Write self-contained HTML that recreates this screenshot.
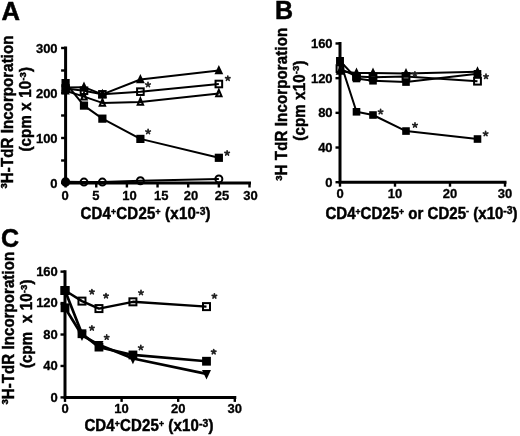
<!DOCTYPE html>
<html><head><meta charset="utf-8"><style>
html,body{margin:0;padding:0;background:#fff;}
body{width:520px;height:436px;overflow:hidden;font-family:"Liberation Sans", sans-serif;}
svg{display:block;will-change:transform;} text{font-kerning:none;}
</style></head><body>
<svg width="520" height="436" viewBox="0 0 520 436">
<rect width="520" height="436" fill="#fff"/>
<text transform="translate(1.60,20.40) scale(1,1.0)" font-size="25.6" font-family="Liberation Sans, sans-serif" font-weight="bold" stroke="#000" stroke-width="0.5">A</text>
<text transform="translate(12.50,112.00) rotate(-90) scale(1,1.04)" font-size="15" font-family="Liberation Sans, sans-serif" font-weight="bold" text-anchor="middle" stroke="#000" stroke-width="0.45" textLength="153.1" lengthAdjust="spacing"><tspan font-size="9.5" dy="-5">3</tspan><tspan dy="5">H-TdR Incorporation</tspan></text>
<text transform="translate(31.40,109.30) rotate(-90) scale(1,1.04)" font-size="15" font-family="Liberation Sans, sans-serif" font-weight="bold" text-anchor="middle" stroke="#000" stroke-width="0.45" textLength="84.6" lengthAdjust="spacing">(cpm x 10<tspan font-size="9.5" dy="-5">-3</tspan><tspan dy="5">)</tspan></text>
<path d="M65.60,181.65 L83.99,182.10 L102.38,182.10 L140.39,180.75 L218.85,178.95" fill="none" stroke="#000" stroke-width="2.0" stroke-linejoin="round"/>
<path d="M65.60,90.75 L83.99,96.60 L102.38,102.90 L140.39,102.00 L218.85,93.45" fill="none" stroke="#000" stroke-width="2.0" stroke-linejoin="round"/>
<path d="M65.60,88.50 L83.99,90.75 L102.38,94.35 L140.39,91.65 L218.85,84.00" fill="none" stroke="#000" stroke-width="2.0" stroke-linejoin="round"/>
<path d="M65.60,87.60 L83.99,87.15 L102.38,94.35 L140.39,79.50 L218.85,70.50" fill="none" stroke="#000" stroke-width="2.0" stroke-linejoin="round"/>
<path d="M65.60,83.10 L83.99,105.60 L102.38,118.65 L140.39,138.90 L218.85,157.80" fill="none" stroke="#000" stroke-width="2.0" stroke-linejoin="round"/>
<path d="M65.60,48.00 V183.00 H249.50" fill="none" stroke="#000" stroke-width="3" stroke-linecap="square"/>
<line x1="61.10" y1="183.00" x2="65.60" y2="183.00" stroke="#000" stroke-width="2.4"/>
<line x1="61.10" y1="160.50" x2="65.60" y2="160.50" stroke="#000" stroke-width="2.4"/>
<line x1="61.10" y1="138.00" x2="65.60" y2="138.00" stroke="#000" stroke-width="2.4"/>
<line x1="61.10" y1="115.50" x2="65.60" y2="115.50" stroke="#000" stroke-width="2.4"/>
<line x1="61.10" y1="93.00" x2="65.60" y2="93.00" stroke="#000" stroke-width="2.4"/>
<line x1="61.10" y1="70.50" x2="65.60" y2="70.50" stroke="#000" stroke-width="2.4"/>
<line x1="61.10" y1="48.00" x2="65.60" y2="48.00" stroke="#000" stroke-width="2.4"/>
<line x1="65.60" y1="183.00" x2="65.60" y2="187.50" stroke="#000" stroke-width="2.4"/>
<line x1="96.25" y1="183.00" x2="96.25" y2="187.50" stroke="#000" stroke-width="2.4"/>
<line x1="126.90" y1="183.00" x2="126.90" y2="187.50" stroke="#000" stroke-width="2.4"/>
<line x1="157.55" y1="183.00" x2="157.55" y2="187.50" stroke="#000" stroke-width="2.4"/>
<line x1="188.20" y1="183.00" x2="188.20" y2="187.50" stroke="#000" stroke-width="2.4"/>
<line x1="218.85" y1="183.00" x2="218.85" y2="187.50" stroke="#000" stroke-width="2.4"/>
<line x1="249.50" y1="183.00" x2="249.50" y2="187.50" stroke="#000" stroke-width="2.4"/>
<text transform="translate(57.60,188.20) scale(1,1.04)" font-size="13" font-family="Liberation Sans, sans-serif" font-weight="bold" text-anchor="end" stroke="#000" stroke-width="0.3">0</text>
<text transform="translate(57.60,143.20) scale(1,1.04)" font-size="13" font-family="Liberation Sans, sans-serif" font-weight="bold" text-anchor="end" stroke="#000" stroke-width="0.3">100</text>
<text transform="translate(57.60,98.20) scale(1,1.04)" font-size="13" font-family="Liberation Sans, sans-serif" font-weight="bold" text-anchor="end" stroke="#000" stroke-width="0.3">200</text>
<text transform="translate(57.60,53.20) scale(1,1.04)" font-size="13" font-family="Liberation Sans, sans-serif" font-weight="bold" text-anchor="end" stroke="#000" stroke-width="0.3">300</text>
<text transform="translate(65.20,199.50) scale(1,1.04)" font-size="13" font-family="Liberation Sans, sans-serif" font-weight="bold" text-anchor="middle" stroke="#000" stroke-width="0.3">0</text>
<text transform="translate(95.80,199.50) scale(1,1.04)" font-size="13" font-family="Liberation Sans, sans-serif" font-weight="bold" text-anchor="middle" stroke="#000" stroke-width="0.3">5</text>
<text transform="translate(129.40,199.50) scale(1,1.04)" font-size="13" font-family="Liberation Sans, sans-serif" font-weight="bold" text-anchor="middle" stroke="#000" stroke-width="0.3">10</text>
<text transform="translate(161.20,199.50) scale(1,1.04)" font-size="13" font-family="Liberation Sans, sans-serif" font-weight="bold" text-anchor="middle" stroke="#000" stroke-width="0.3">15</text>
<text transform="translate(191.00,199.50) scale(1,1.04)" font-size="13" font-family="Liberation Sans, sans-serif" font-weight="bold" text-anchor="middle" stroke="#000" stroke-width="0.3">20</text>
<text transform="translate(222.00,199.50) scale(1,1.04)" font-size="13" font-family="Liberation Sans, sans-serif" font-weight="bold" text-anchor="middle" stroke="#000" stroke-width="0.3">25</text>
<text transform="translate(250.40,199.50) scale(1,1.04)" font-size="13" font-family="Liberation Sans, sans-serif" font-weight="bold" text-anchor="middle" stroke="#000" stroke-width="0.3">30</text>
<circle cx="65.60" cy="182.55" r="4.30" fill="#000"/>
<circle cx="65.60" cy="181.65" r="3.50" fill="none" stroke="#000" stroke-width="2.0"/>
<circle cx="83.99" cy="182.10" r="3.50" fill="none" stroke="#000" stroke-width="2.0"/>
<circle cx="102.38" cy="182.10" r="3.50" fill="none" stroke="#000" stroke-width="2.0"/>
<circle cx="140.39" cy="180.75" r="3.50" fill="none" stroke="#000" stroke-width="2.0"/>
<circle cx="218.85" cy="178.95" r="3.50" fill="none" stroke="#000" stroke-width="2.0"/>
<path d="M65.60,87.08 L68.30,93.53 L62.90,93.53 Z" fill="none" stroke="#000" stroke-width="2.0" stroke-linejoin="miter"/>
<path d="M83.99,92.93 L86.69,99.38 L81.29,99.38 Z" fill="none" stroke="#000" stroke-width="2.0" stroke-linejoin="miter"/>
<path d="M102.38,99.23 L105.08,105.68 L99.68,105.68 Z" fill="none" stroke="#000" stroke-width="2.0" stroke-linejoin="miter"/>
<path d="M140.39,98.33 L143.09,104.78 L137.69,104.78 Z" fill="none" stroke="#000" stroke-width="2.0" stroke-linejoin="miter"/>
<path d="M218.85,89.78 L221.55,96.23 L216.15,96.23 Z" fill="none" stroke="#000" stroke-width="2.0" stroke-linejoin="miter"/>
<rect x="62.30" y="85.20" width="6.60" height="6.60" fill="none" stroke="#000" stroke-width="2.0"/>
<rect x="80.69" y="87.45" width="6.60" height="6.60" fill="none" stroke="#000" stroke-width="2.0"/>
<rect x="99.08" y="91.05" width="6.60" height="6.60" fill="none" stroke="#000" stroke-width="2.0"/>
<rect x="137.09" y="88.35" width="6.60" height="6.60" fill="none" stroke="#000" stroke-width="2.0"/>
<rect x="215.55" y="80.70" width="6.60" height="6.60" fill="none" stroke="#000" stroke-width="2.0"/>
<path d="M65.60,82.06 L70.00,91.30 L61.20,91.30 Z" fill="#000"/>
<path d="M83.99,81.61 L88.39,90.85 L79.59,90.85 Z" fill="#000"/>
<path d="M102.38,88.81 L106.78,98.05 L97.98,98.05 Z" fill="#000"/>
<path d="M140.39,73.96 L144.79,83.20 L135.99,83.20 Z" fill="#000"/>
<path d="M218.85,64.96 L223.25,74.20 L214.45,74.20 Z" fill="#000"/>
<rect x="61.50" y="79.00" width="8.2" height="8.2" fill="#000"/>
<rect x="79.89" y="101.50" width="8.2" height="8.2" fill="#000"/>
<rect x="98.28" y="114.55" width="8.2" height="8.2" fill="#000"/>
<rect x="136.29" y="134.80" width="8.2" height="8.2" fill="#000"/>
<rect x="214.75" y="153.70" width="8.2" height="8.2" fill="#000"/>
<path d="M148.00,84.70 L148.00,82.35 M148.00,84.70 L150.23,83.97 M148.00,84.70 L149.38,86.60 M148.00,84.70 L146.62,86.60 M148.00,84.70 L145.77,83.97 " stroke="#222" stroke-width="1.7" stroke-linecap="round" fill="none"/>
<path d="M227.80,78.40 L227.80,76.05 M227.80,78.40 L230.03,77.67 M227.80,78.40 L229.18,80.30 M227.80,78.40 L226.42,80.30 M227.80,78.40 L225.57,77.67 " stroke="#222" stroke-width="1.7" stroke-linecap="round" fill="none"/>
<path d="M148.10,131.70 L148.10,129.35 M148.10,131.70 L150.33,130.97 M148.10,131.70 L149.48,133.60 M148.10,131.70 L146.72,133.60 M148.10,131.70 L145.87,130.97 " stroke="#222" stroke-width="1.7" stroke-linecap="round" fill="none"/>
<path d="M227.10,153.10 L227.10,150.75 M227.10,153.10 L229.33,152.37 M227.10,153.10 L228.48,155.00 M227.10,153.10 L225.72,155.00 M227.10,153.10 L224.87,152.37 " stroke="#222" stroke-width="1.7" stroke-linecap="round" fill="none"/>
<text transform="translate(80.40,219.40) scale(1,1.04)" font-size="15" font-family="Liberation Sans, sans-serif" font-weight="bold" stroke="#000" stroke-width="0.45" textLength="130.2" lengthAdjust="spacing">CD4<tspan font-size="8.6" dy="-4.1">+</tspan><tspan dy="4.1">CD25</tspan><tspan font-size="8.6" dy="-4.1">+</tspan><tspan dy="4.1"> (x10</tspan><tspan font-size="10.3" dy="-4.2">-3</tspan><tspan dy="4.2">)</tspan></text>
<text transform="translate(275.00,19.30) scale(1,1.0)" font-size="25" font-family="Liberation Sans, sans-serif" font-weight="bold" stroke="#000" stroke-width="0.5">B</text>
<text transform="translate(286.80,104.30) rotate(-90) scale(1,1.04)" font-size="15" font-family="Liberation Sans, sans-serif" font-weight="bold" text-anchor="middle" stroke="#000" stroke-width="0.45" textLength="153.1" lengthAdjust="spacing"><tspan font-size="9.5" dy="-5">3</tspan><tspan dy="5">H TdR Incorporation</tspan></text>
<text transform="translate(304.60,100.60) rotate(-90) scale(1,1.04)" font-size="15" font-family="Liberation Sans, sans-serif" font-weight="bold" text-anchor="middle" stroke="#000" stroke-width="0.45" textLength="80.2" lengthAdjust="spacing">(cpm x10<tspan font-size="9.5" dy="-5">-3</tspan><tspan dy="5">)</tspan></text>
<path d="M340.00,71.22 L356.50,72.96 L373.00,72.96 L406.00,73.39 L477.50,71.66" fill="none" stroke="#000" stroke-width="2.0" stroke-linejoin="round"/>
<path d="M340.00,68.62 L356.50,76.43 L373.00,77.29 L406.00,76.43 L477.50,81.19" fill="none" stroke="#000" stroke-width="2.0" stroke-linejoin="round"/>
<path d="M340.00,60.82 L356.50,78.51 L373.00,80.76 L406.00,82.06 L477.50,73.82" fill="none" stroke="#000" stroke-width="2.0" stroke-linejoin="round"/>
<path d="M340.00,60.82 L356.50,111.80 L373.00,115.01 L406.00,131.05 L477.50,139.02" fill="none" stroke="#000" stroke-width="2.0" stroke-linejoin="round"/>
<path d="M340.00,43.48 V182.20 H505.00" fill="none" stroke="#000" stroke-width="3" stroke-linecap="square"/>
<line x1="335.50" y1="182.20" x2="340.00" y2="182.20" stroke="#000" stroke-width="2.4"/>
<line x1="335.50" y1="147.52" x2="340.00" y2="147.52" stroke="#000" stroke-width="2.4"/>
<line x1="335.50" y1="112.84" x2="340.00" y2="112.84" stroke="#000" stroke-width="2.4"/>
<line x1="335.50" y1="78.16" x2="340.00" y2="78.16" stroke="#000" stroke-width="2.4"/>
<line x1="335.50" y1="43.48" x2="340.00" y2="43.48" stroke="#000" stroke-width="2.4"/>
<line x1="340.00" y1="182.20" x2="340.00" y2="186.70" stroke="#000" stroke-width="2.4"/>
<line x1="395.00" y1="182.20" x2="395.00" y2="186.70" stroke="#000" stroke-width="2.4"/>
<line x1="450.00" y1="182.20" x2="450.00" y2="186.70" stroke="#000" stroke-width="2.4"/>
<line x1="505.00" y1="182.20" x2="505.00" y2="186.70" stroke="#000" stroke-width="2.4"/>
<text transform="translate(332.60,186.60) scale(1,1.04)" font-size="13" font-family="Liberation Sans, sans-serif" font-weight="bold" text-anchor="end" stroke="#000" stroke-width="0.3">0</text>
<text transform="translate(332.60,151.92) scale(1,1.04)" font-size="13" font-family="Liberation Sans, sans-serif" font-weight="bold" text-anchor="end" stroke="#000" stroke-width="0.3">40</text>
<text transform="translate(332.60,117.24) scale(1,1.04)" font-size="13" font-family="Liberation Sans, sans-serif" font-weight="bold" text-anchor="end" stroke="#000" stroke-width="0.3">80</text>
<text transform="translate(332.60,82.56) scale(1,1.04)" font-size="13" font-family="Liberation Sans, sans-serif" font-weight="bold" text-anchor="end" stroke="#000" stroke-width="0.3">120</text>
<text transform="translate(332.60,47.88) scale(1,1.04)" font-size="13" font-family="Liberation Sans, sans-serif" font-weight="bold" text-anchor="end" stroke="#000" stroke-width="0.3">160</text>
<text transform="translate(340.00,197.50) scale(1,1.04)" font-size="13" font-family="Liberation Sans, sans-serif" font-weight="bold" text-anchor="middle" stroke="#000" stroke-width="0.3">0</text>
<text transform="translate(395.00,197.50) scale(1,1.04)" font-size="13" font-family="Liberation Sans, sans-serif" font-weight="bold" text-anchor="middle" stroke="#000" stroke-width="0.3">10</text>
<text transform="translate(450.00,197.50) scale(1,1.04)" font-size="13" font-family="Liberation Sans, sans-serif" font-weight="bold" text-anchor="middle" stroke="#000" stroke-width="0.3">20</text>
<text transform="translate(505.00,197.50) scale(1,1.04)" font-size="13" font-family="Liberation Sans, sans-serif" font-weight="bold" text-anchor="middle" stroke="#000" stroke-width="0.3">30</text>
<path d="M340.00,65.81 L344.30,74.84 L335.70,74.84 Z" fill="#000"/>
<path d="M356.50,67.54 L360.80,76.57 L352.20,76.57 Z" fill="#000"/>
<path d="M373.00,67.54 L377.30,76.57 L368.70,76.57 Z" fill="#000"/>
<path d="M406.00,67.97 L410.30,77.00 L401.70,77.00 Z" fill="#000"/>
<path d="M477.50,66.24 L481.80,75.27 L473.20,75.27 Z" fill="#000"/>
<rect x="336.60" y="65.22" width="6.80" height="6.80" fill="none" stroke="#000" stroke-width="2.0"/>
<rect x="353.10" y="73.03" width="6.80" height="6.80" fill="none" stroke="#000" stroke-width="2.0"/>
<rect x="369.60" y="73.89" width="6.80" height="6.80" fill="none" stroke="#000" stroke-width="2.0"/>
<rect x="402.60" y="73.03" width="6.80" height="6.80" fill="none" stroke="#000" stroke-width="2.0"/>
<rect x="474.10" y="77.79" width="6.80" height="6.80" fill="none" stroke="#000" stroke-width="2.0"/>
<rect x="336.20" y="57.02" width="7.6" height="7.6" fill="#000"/>
<rect x="352.70" y="74.71" width="7.6" height="7.6" fill="#000"/>
<rect x="369.20" y="76.96" width="7.6" height="7.6" fill="#000"/>
<rect x="402.20" y="78.26" width="7.6" height="7.6" fill="#000"/>
<rect x="473.70" y="70.02" width="7.6" height="7.6" fill="#000"/>
<rect x="336.20" y="57.02" width="7.6" height="7.6" fill="#000"/>
<rect x="352.70" y="108.00" width="7.6" height="7.6" fill="#000"/>
<rect x="369.20" y="111.21" width="7.6" height="7.6" fill="#000"/>
<rect x="402.20" y="127.25" width="7.6" height="7.6" fill="#000"/>
<rect x="473.70" y="135.22" width="7.6" height="7.6" fill="#000"/>
<path d="M380.60,111.80 L380.60,109.45 M380.60,111.80 L382.83,111.07 M380.60,111.80 L381.98,113.70 M380.60,111.80 L379.22,113.70 M380.60,111.80 L378.37,111.07 " stroke="#222" stroke-width="1.7" stroke-linecap="round" fill="none"/>
<path d="M415.00,125.20 L415.00,122.85 M415.00,125.20 L417.23,124.47 M415.00,125.20 L416.38,127.10 M415.00,125.20 L413.62,127.10 M415.00,125.20 L412.77,124.47 " stroke="#222" stroke-width="1.7" stroke-linecap="round" fill="none"/>
<path d="M485.60,133.70 L485.60,131.35 M485.60,133.70 L487.83,132.97 M485.60,133.70 L486.98,135.60 M485.60,133.70 L484.22,135.60 M485.60,133.70 L483.37,132.97 " stroke="#222" stroke-width="1.7" stroke-linecap="round" fill="none"/>
<path d="M414.90,74.20 L414.90,71.85 M414.90,74.20 L417.13,73.47 M414.90,74.20 L416.28,76.10 M414.90,74.20 L413.52,76.10 M414.90,74.20 L412.67,73.47 " stroke="#222" stroke-width="1.7" stroke-linecap="round" fill="none"/>
<path d="M486.00,76.50 L486.00,74.15 M486.00,76.50 L488.23,75.77 M486.00,76.50 L487.38,78.40 M486.00,76.50 L484.62,78.40 M486.00,76.50 L483.77,75.77 " stroke="#222" stroke-width="1.7" stroke-linecap="round" fill="none"/>
<text transform="translate(325.40,218.80) scale(1,1.04)" font-size="15" font-family="Liberation Sans, sans-serif" font-weight="bold" stroke="#000" stroke-width="0.45" textLength="192.2" lengthAdjust="spacing">CD4<tspan font-size="8.6" dy="-4.1">+</tspan><tspan dy="4.1">CD25</tspan><tspan font-size="8.6" dy="-4.1">+</tspan><tspan dy="4.1"> or CD25</tspan><tspan font-size="9" dy="-4.5">-</tspan><tspan dy="4.5"> (x10</tspan><tspan font-size="10.3" dy="-4.2">-3</tspan><tspan dy="4.2">)</tspan></text>
<text transform="translate(1.00,246.80) scale(1,1.0)" font-size="25" font-family="Liberation Sans, sans-serif" font-weight="bold" stroke="#000" stroke-width="0.5">C</text>
<text transform="translate(13.50,328.20) rotate(-90) scale(1,1.04)" font-size="15" font-family="Liberation Sans, sans-serif" font-weight="bold" text-anchor="middle" stroke="#000" stroke-width="0.45" textLength="152.6" lengthAdjust="spacing"><tspan font-size="9.5" dy="-5">3</tspan><tspan dy="5">H-TdR Incorporation</tspan></text>
<text transform="translate(32.20,323.85) rotate(-90) scale(1,1.04)" font-size="15" font-family="Liberation Sans, sans-serif" font-weight="bold" text-anchor="middle" stroke="#000" stroke-width="0.45" textLength="88.5" lengthAdjust="spacing">(cpm<tspan xml:space="preserve">  </tspan>x 10<tspan font-size="9.5" dy="-5">-3</tspan><tspan dy="5">)</tspan></text>
<path d="M65.00,290.50 L81.98,301.11 L98.96,308.58 L132.92,301.82 L206.50,306.62" fill="none" stroke="#000" stroke-width="2.4" stroke-linejoin="round"/>
<path d="M65.00,307.80 L81.98,335.31 L98.96,344.74 L132.92,358.49 L206.50,373.82" fill="none" stroke="#000" stroke-width="2.7" stroke-linejoin="round"/>
<path d="M65.00,290.50 L81.98,333.73 L98.96,347.10 L132.92,354.96 L206.50,361.24" fill="none" stroke="#000" stroke-width="2.7" stroke-linejoin="round"/>
<path d="M65.00,271.64 V397.40 H234.80" fill="none" stroke="#000" stroke-width="3" stroke-linecap="square"/>
<line x1="60.50" y1="397.40" x2="65.00" y2="397.40" stroke="#000" stroke-width="2.4"/>
<line x1="60.50" y1="365.96" x2="65.00" y2="365.96" stroke="#000" stroke-width="2.4"/>
<line x1="60.50" y1="334.52" x2="65.00" y2="334.52" stroke="#000" stroke-width="2.4"/>
<line x1="60.50" y1="303.08" x2="65.00" y2="303.08" stroke="#000" stroke-width="2.4"/>
<line x1="60.50" y1="271.64" x2="65.00" y2="271.64" stroke="#000" stroke-width="2.4"/>
<line x1="65.00" y1="397.40" x2="65.00" y2="401.90" stroke="#000" stroke-width="2.4"/>
<line x1="121.60" y1="397.40" x2="121.60" y2="401.90" stroke="#000" stroke-width="2.4"/>
<line x1="178.20" y1="397.40" x2="178.20" y2="401.90" stroke="#000" stroke-width="2.4"/>
<line x1="234.80" y1="397.40" x2="234.80" y2="401.90" stroke="#000" stroke-width="2.4"/>
<text transform="translate(57.80,401.80) scale(1,1.04)" font-size="13" font-family="Liberation Sans, sans-serif" font-weight="bold" text-anchor="end" stroke="#000" stroke-width="0.3">0</text>
<text transform="translate(57.80,370.36) scale(1,1.04)" font-size="13" font-family="Liberation Sans, sans-serif" font-weight="bold" text-anchor="end" stroke="#000" stroke-width="0.3">40</text>
<text transform="translate(57.80,338.92) scale(1,1.04)" font-size="13" font-family="Liberation Sans, sans-serif" font-weight="bold" text-anchor="end" stroke="#000" stroke-width="0.3">80</text>
<text transform="translate(57.80,307.48) scale(1,1.04)" font-size="13" font-family="Liberation Sans, sans-serif" font-weight="bold" text-anchor="end" stroke="#000" stroke-width="0.3">120</text>
<text transform="translate(57.80,276.04) scale(1,1.04)" font-size="13" font-family="Liberation Sans, sans-serif" font-weight="bold" text-anchor="end" stroke="#000" stroke-width="0.3">160</text>
<text transform="translate(65.00,412.80) scale(1,1.04)" font-size="13" font-family="Liberation Sans, sans-serif" font-weight="bold" text-anchor="middle" stroke="#000" stroke-width="0.3">0</text>
<text transform="translate(121.60,412.80) scale(1,1.04)" font-size="13" font-family="Liberation Sans, sans-serif" font-weight="bold" text-anchor="middle" stroke="#000" stroke-width="0.3">10</text>
<text transform="translate(178.20,412.80) scale(1,1.04)" font-size="13" font-family="Liberation Sans, sans-serif" font-weight="bold" text-anchor="middle" stroke="#000" stroke-width="0.3">20</text>
<text transform="translate(234.80,412.80) scale(1,1.04)" font-size="13" font-family="Liberation Sans, sans-serif" font-weight="bold" text-anchor="middle" stroke="#000" stroke-width="0.3">30</text>
<rect x="61.50" y="287.00" width="7.00" height="7.00" fill="none" stroke="#000" stroke-width="2.0"/>
<rect x="78.48" y="297.61" width="7.00" height="7.00" fill="none" stroke="#000" stroke-width="2.0"/>
<rect x="95.46" y="305.08" width="7.00" height="7.00" fill="none" stroke="#000" stroke-width="2.0"/>
<rect x="129.42" y="298.32" width="7.00" height="7.00" fill="none" stroke="#000" stroke-width="2.0"/>
<rect x="203.00" y="303.12" width="7.00" height="7.00" fill="none" stroke="#000" stroke-width="2.0"/>
<path d="M65.00,313.47 L69.50,304.02 L60.50,304.02 Z" fill="#000"/>
<path d="M81.98,340.98 L86.48,331.53 L77.48,331.53 Z" fill="#000"/>
<path d="M98.96,350.41 L103.46,340.96 L94.46,340.96 Z" fill="#000"/>
<path d="M132.92,364.16 L137.42,354.71 L128.42,354.71 Z" fill="#000"/>
<path d="M206.50,379.49 L211.00,370.04 L202.00,370.04 Z" fill="#000"/>
<rect x="60.60" y="286.10" width="8.8" height="8.8" fill="#000"/>
<rect x="77.58" y="329.33" width="8.8" height="8.8" fill="#000"/>
<rect x="94.56" y="342.70" width="8.8" height="8.8" fill="#000"/>
<rect x="128.52" y="350.56" width="8.8" height="8.8" fill="#000"/>
<rect x="202.10" y="356.84" width="8.8" height="8.8" fill="#000"/>
<rect x="60.60" y="303.40" width="8.8" height="8.8" fill="#000"/>
<path d="M91.90,291.90 L91.90,289.55 M91.90,291.90 L94.13,291.17 M91.90,291.90 L93.28,293.80 M91.90,291.90 L90.52,293.80 M91.90,291.90 L89.67,291.17 " stroke="#222" stroke-width="1.7" stroke-linecap="round" fill="none"/>
<path d="M106.00,295.90 L106.00,293.55 M106.00,295.90 L108.23,295.17 M106.00,295.90 L107.38,297.80 M106.00,295.90 L104.62,297.80 M106.00,295.90 L103.77,295.17 " stroke="#222" stroke-width="1.7" stroke-linecap="round" fill="none"/>
<path d="M141.00,292.70 L141.00,290.35 M141.00,292.70 L143.23,291.97 M141.00,292.70 L142.38,294.60 M141.00,292.70 L139.62,294.60 M141.00,292.70 L138.77,291.97 " stroke="#222" stroke-width="1.7" stroke-linecap="round" fill="none"/>
<path d="M214.40,296.10 L214.40,293.75 M214.40,296.10 L216.63,295.37 M214.40,296.10 L215.78,298.00 M214.40,296.10 L213.02,298.00 M214.40,296.10 L212.17,295.37 " stroke="#222" stroke-width="1.7" stroke-linecap="round" fill="none"/>
<path d="M91.90,328.10 L91.90,325.75 M91.90,328.10 L94.13,327.37 M91.90,328.10 L93.28,330.00 M91.90,328.10 L90.52,330.00 M91.90,328.10 L89.67,327.37 " stroke="#222" stroke-width="1.7" stroke-linecap="round" fill="none"/>
<path d="M106.70,337.30 L106.70,334.95 M106.70,337.30 L108.93,336.57 M106.70,337.30 L108.08,339.20 M106.70,337.30 L105.32,339.20 M106.70,337.30 L104.47,336.57 " stroke="#222" stroke-width="1.7" stroke-linecap="round" fill="none"/>
<path d="M140.80,347.70 L140.80,345.35 M140.80,347.70 L143.03,346.97 M140.80,347.70 L142.18,349.60 M140.80,347.70 L139.42,349.60 M140.80,347.70 L138.57,346.97 " stroke="#222" stroke-width="1.7" stroke-linecap="round" fill="none"/>
<path d="M213.70,351.90 L213.70,349.55 M213.70,351.90 L215.93,351.17 M213.70,351.90 L215.08,353.80 M213.70,351.90 L212.32,353.80 M213.70,351.90 L211.47,351.17 " stroke="#222" stroke-width="1.7" stroke-linecap="round" fill="none"/>
<text transform="translate(84.40,431.30) scale(1,1.04)" font-size="15" font-family="Liberation Sans, sans-serif" font-weight="bold" stroke="#000" stroke-width="0.45" textLength="129" lengthAdjust="spacing">CD4<tspan font-size="8.6" dy="-4.1">+</tspan><tspan dy="4.1">CD25</tspan><tspan font-size="8.6" dy="-4.1">+</tspan><tspan dy="4.1"> (x10</tspan><tspan font-size="10.3" dy="-4.2">-3</tspan><tspan dy="4.2">)</tspan></text>
</svg>
</body></html>
